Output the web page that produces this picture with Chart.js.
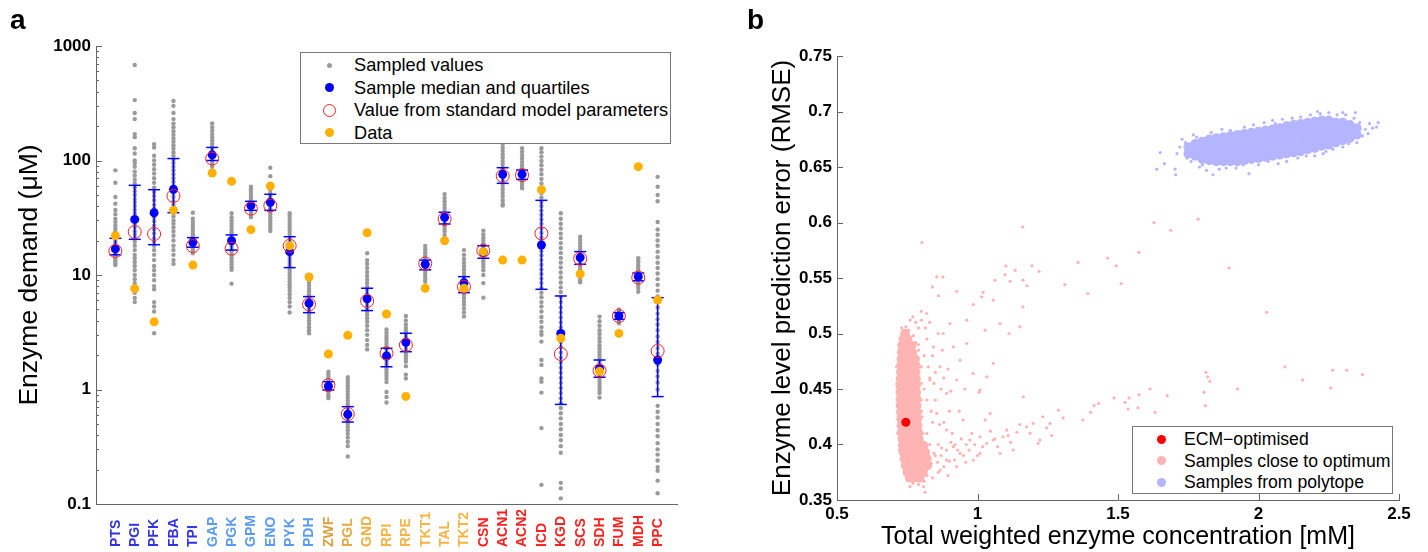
<!DOCTYPE html>
<html>
<head>
<meta charset="utf-8">
<script src="https://cdn.jsdelivr.net/npm/chart.js@4.4.1/dist/chart.umd.min.js"></script>
<style>
  body { margin: 0; background: #fff; }
  #wrap { position: relative; width: 1428px; height: 552px; font-family: "Liberation Sans", Arial, sans-serif; }
  canvas { position: absolute; top: 0; }
  #chartA { left: 0; }
  #chartB { left: 720px; }
  .panel { position: absolute; font: bold 28px "Liberation Sans", Arial, sans-serif; line-height: 28px; }
  .legend { position: absolute; background: #fff; border: 1px solid #777; box-sizing: border-box; }
  .legend .item { position: absolute; line-height: 20px; white-space: nowrap; color: #000; }
  .legend .mk { position: absolute; border-radius: 50%; box-sizing: border-box; }
  #legendA .item { font-size: 18.2px; }
  #legendB .item { font-size: 17.6px; }
</style>
</head>
<body>
<div id="wrap">
  <canvas id="chartA" width="720" height="552"></canvas>
  <canvas id="chartB" width="708" height="552"></canvas>
  <div class="panel" style="left:10px;top:6px;">a</div>
  <div class="panel" style="left:747px;top:6px;">b</div>

  <div class="legend" id="legendA" style="left:300px;top:52px;width:371px;height:92px;">
    <span class="mk" style="left:26px;top:10px;width:5px;height:5px;background:#9a9a9a;"></span>
    <div class="item" style="left:53px;top:2px;">Sampled values</div>
    <span class="mk" style="left:23.5px;top:30px;width:9px;height:9px;background:#0000ff;"></span>
    <div class="item" style="left:53px;top:24.5px;">Sample median and quartiles</div>
    <span class="mk" style="left:21.5px;top:50.5px;width:13px;height:13px;border:1px solid #ff2020;"></span>
    <div class="item" style="left:53px;top:47px;">Value from standard model parameters</div>
    <span class="mk" style="left:23.5px;top:75px;width:9px;height:9px;background:#ffb000;"></span>
    <div class="item" style="left:53px;top:69.5px;">Data</div>
  </div>

  <div class="legend" id="legendB" style="left:1132px;top:426px;width:261px;height:68px;">
    <span class="mk" style="left:23.5px;top:7.5px;width:9px;height:9px;background:#ff0000;"></span>
    <div class="item" style="left:51px;top:2px;">ECM−optimised</div>
    <span class="mk" style="left:23.5px;top:29px;width:9px;height:9px;background:#ffb4b4;"></span>
    <div class="item" style="left:51px;top:23.5px;">Samples close to optimum</div>
    <span class="mk" style="left:23.5px;top:50.5px;width:9px;height:9px;background:#b4b4ff;"></span>
    <div class="item" style="left:51px;top:45px;">Samples from polytope</div>
  </div>
</div>

<script>
// ---- panel a: enzyme demand ----
const enzymes = ["PTS", "PGI", "PFK", "FBA", "TPI", "GAP", "PGK", "GPM", "ENO", "PYK", "PDH",
  "ZWF", "PGL", "GND", "RPI", "RPE", "TKT1", "TAL", "TKT2",
  "CSN", "ACN1", "ACN2", "ICD", "KGD", "SCS", "SDH", "FUM", "MDH", "PPC"];
const enzymeColors = ["#3232e6", "#3232e6", "#3232e6", "#3232e6", "#3232e6",
  "#5a9af0", "#5a9af0", "#5a9af0", "#5a9af0", "#5a9af0", "#5a9af0",
  "#d9a040", "#e6a840", "#f0b040", "#f5b445", "#f5b445", "#f5b445", "#f5b445", "#f5b445",
  "#ff2020", "#ff2020", "#ff2020", "#ff2020", "#ff2020", "#ff2020", "#ff2020", "#ff2020", "#ff2020", "#ff2020"];

const sampleMedian = [16.9, 30.6, 35.0, 56, 19.3, 112, 19.9, 40.4, 43.2, 16.0, 5.66,
  1.07, 0.607, 6.2, 1.96, 2.58, 12.4, 31.9, 8.57,
  15.8, 75.7, 75.7, 18.3, 3.09, 14.2, 1.53, 4.38, 9.67, 1.81];
const sampleLowerQuartile = [15.0, 20.5, 18.4, 35, 17.5, 100, 16.5, 36.7, 36.7, 11.6, 4.69,
  0.99, 0.52, 4.89, 1.58, 2.14, 11.1, 27.9, 7.01,
  14.0, 63.2, 68.4, 7.5, 0.741, 12.4, 1.28, 4.1, 8.9, 0.867];
const sampleUpperQuartile = [20.9, 60.7, 55.6, 104, 21.2, 130, 22.4, 44, 50.7, 21.6, 6.48,
  1.17, 0.708, 7.66, 2.29, 3.10, 13.5, 35.3, 9.67,
  18.0, 86.5, 82.6, 44.9, 6.56, 16.0, 1.81, 4.69, 10.4, 6.34];
const standardValue = [16.2, 23.8, 22.8, 49, 17.9, 104, 17.0, 38, 40.4, 18.0, 5.55,
  1.09, 0.61, 5.93, 2.07, 2.45, 12.6, 30.9, 7.9,
  16.3, 73.3, 74.5, 23.1, 2.04, 13.9, 1.46, 4.38, 9.5, 2.17];
const measuredData = [22.0, 7.6, 3.9, 36.7, 12.2, 77.8, 65.8, 24.9, 59.8, 18.0, 9.6,
  2.04, 2.97, 23.4, 4.56, 0.87, 7.65, 19.9, 7.65,
  16.0, 13.5, 13.5, 55.6, 2.8, 10.2, 1.44, 3.09, 88.3, 6.05];

const sampledValues = [
  [82, 64, 48, 42, 37, 34, 31, 29, 27, 25.5, 24, 22.8, 21.7, 20.7, 19.8, 19, 18.2, 17.4, 16.7, 16, 15.4, 14.8, 14.2, 13.6, 13.1, 12.6, 12.2],
  [682, 337, 260, 230, 170, 160, 128, 115, 100, 95, 88, 80, 74, 68, 63, 58, 54, 50, 46, 43, 40, 37, 34.5, 32, 30, 28, 26, 24, 22.5, 21, 19.5, 18, 16.5, 15, 14, 13, 12, 11, 10, 9.2, 8.5, 7.8, 7, 6.3, 5.8],
  [139, 130, 110, 100, 92, 84, 77, 70, 64, 58, 53, 49, 45, 41, 38, 35, 32, 29.5, 27, 25, 23, 21, 19.5, 18, 16.5, 15, 13.5, 12, 11, 10, 9, 8, 7.5, 5.8, 5.3, 4.8, 3.1],
  [331, 300, 260, 230, 210, 195, 180, 168, 156, 146, 136, 127, 118, 110, 102, 95, 88, 82, 76, 70, 65, 60, 56, 52, 48, 44, 41, 38, 35, 32.5, 30, 28, 26, 24, 22, 20, 18, 16.5, 15, 13.5, 12.5],
  [35, 31, 29, 27.5, 26, 24.5, 23.2, 22, 21, 20, 19.2, 18.4, 17.6, 16.9, 16.2, 15.5],
  [211, 195, 182, 170, 160, 150, 141, 133, 126, 119, 113, 107, 101, 96, 92, 88],
  [34.6, 32, 30, 28, 26.5, 25, 23.5, 22, 20.8, 19.7, 18.6, 17.6, 16.6, 15.7, 14.8, 14, 13.2, 12.4, 11.7, 11.1, 8.4],
  [59, 56, 53, 50, 47.5, 45, 43, 41, 39, 37, 35, 33.5, 32],
  [86.5, 73, 62, 56, 52, 49, 46.5, 44, 42, 40, 38, 36, 34, 32, 30, 28.5, 27, 25.5, 24.2],
  [34.6, 33, 31, 29, 27.5, 26, 24.5, 23, 21.6, 20.3, 19.1, 18, 17, 16, 15, 14.1, 13.3, 12.5, 11.8, 11.1, 10.5, 9.9, 9.3, 8.8, 8.3, 7.8, 7.3, 6.8, 6.3, 5.8, 5.3, 4.7],
  [9.2, 8.6, 8.1, 7.6, 7.2, 6.8, 6.4, 6.0, 5.7, 5.4, 5.1, 4.8, 4.5, 4.25, 4.0, 3.75, 3.5, 3.3, 3.1],
  [1.43, 1.36, 1.29, 1.23, 1.17, 1.11, 1.06, 1.01, 0.96, 0.91, 0.87, 0.84],
  [1.28, 1.21, 1.14, 1.08, 1.02, 0.96, 0.9, 0.85, 0.8, 0.75, 0.71, 0.67, 0.63, 0.6, 0.56, 0.53, 0.5, 0.47, 0.44, 0.41, 0.38, 0.35, 0.32, 0.26],
  [15.5, 13.5, 12.5, 11.5, 10.6, 9.8, 9.1, 8.5, 7.9, 7.4, 6.9, 6.5, 6.1, 5.7, 5.4, 5.1, 4.8, 4.5, 4.2, 3.9, 3.6, 3.3, 3.0, 2.7, 2.45, 2.24],
  [3.35, 3.15, 2.95, 2.8, 2.65, 2.5, 2.36, 2.23, 2.1, 1.98, 1.87, 1.77, 1.67, 1.58, 1.49, 1.4, 1.32, 1.24, 1.16, 0.95, 0.86, 0.77],
  [4.38, 4.0, 3.7, 3.45, 3.25, 3.05, 2.88, 2.72, 2.57, 2.43, 2.3, 2.18, 2.06, 1.95, 1.85, 1.75, 1.6, 1.35, 1.25],
  [17.9, 16.8, 15.8, 14.9, 14.1, 13.4, 12.7, 12.1, 11.5, 10.9, 10.3, 9.7, 9.2, 8.75],
  [50.9, 47, 44, 41, 38.5, 36, 34, 32, 30, 28.3, 26.8, 25.3, 24, 22.3],
  [16.5, 15, 13.8, 12.8, 11.9, 11.1, 10.4, 9.8, 9.2, 8.6, 8.1, 7.6, 7.1, 6.7, 6.3, 5.9, 5.5, 5.1, 4.7, 4.33],
  [24.4, 22.6, 21.2, 20, 18.9, 17.9, 17, 16.2, 15.4, 14.6, 13.9, 13.2, 12.5, 11.8, 11, 10, 8.5, 6.34],
  [140, 130, 121, 113, 106, 99, 93, 87, 82, 77, 72, 68, 64, 60, 56, 52, 48.5, 45, 42, 40.4],
  [128, 119, 111, 104, 97, 91, 85.5, 80, 75.5, 71, 67, 63, 60, 57.2],
  [128, 118, 108, 99, 91, 83, 76, 69, 63, 57, 52, 47.5, 43.5, 40, 36.5, 33.5, 30.5, 28, 25.5, 23.3, 21.3, 19.5, 17.8, 16.2, 14.8, 13.5, 12.3, 11.2, 10.2, 9.3, 8.5, 7.7, 7.0, 6.4, 5.8, 5.3, 4.8, 4.3, 3.9, 3.5, 3.2, 3.0, 2.62, 1.81, 1.64, 1.25, 1.17, 0.94, 0.46, 0.147],
  [34.6, 31, 28, 25.5, 23, 21, 19, 17.2, 15.6, 14.1, 12.8, 11.6, 10.5, 9.5, 8.6, 7.8, 7.1, 6.4, 5.8, 5.2, 4.7, 4.25, 3.85, 3.5, 3.15, 2.85, 2.6, 2.35, 2.1, 1.9, 1.72, 1.55, 1.4, 1.26, 1.14, 1.03, 0.93, 0.84, 0.76, 0.69, 0.62, 0.56, 0.5, 0.45, 0.4, 0.36, 0.32, 0.28, 0.153, 0.137, 0.112],
  [21.6, 20.2, 19, 17.9, 16.9, 16, 15.2, 14.4, 13.7, 13, 12.4, 11.8, 11.2, 10.6, 10, 9.5, 9, 8.63],
  [4.33, 3.95, 3.6, 3.3, 3.05, 2.82, 2.62, 2.44, 2.28, 2.13, 2.0, 1.88, 1.77, 1.67, 1.58, 1.49, 1.41, 1.33, 1.26, 1.19, 1.12, 1.05, 0.99, 0.93, 0.85],
  [5.01, 4.85, 4.7, 4.55, 4.4, 4.25, 4.1, 3.95, 3.78],
  [14, 13.2, 12.5, 11.9, 11.3, 10.8, 10.3, 9.8, 9.3, 8.9, 8.5, 8.1, 7.7, 7.15],
  [72, 59, 50, 44, 29, 25, 22.5, 20, 18, 16, 14.3, 12.8, 11.5, 10.3, 9.2, 8.2, 7.3, 6.5, 5.8, 5.2, 4.6, 4.1, 3.7, 3.3, 2.9, 2.6, 2.3, 2.05, 1.85, 1.65, 1.45, 1.3, 1.15, 1.0, 0.72, 0.64, 0.57, 0.5, 0.44, 0.39, 0.34, 0.3, 0.27, 0.24, 0.21, 0.195, 0.16, 0.124]
];
const yMajorTicks = [0.1, 1, 10, 100, 1000];

// ---- panel b: prediction error vs enzyme cost ----
const ecmOptimum = [[0.745, 0.420]];
const nearOptimumCore = [
  [0.742, 0.500],
  [0.736, 0.495], [0.752, 0.495],
  [0.732, 0.489], [0.750, 0.489], [0.766, 0.489],
  [0.730, 0.483], [0.748, 0.483], [0.768, 0.483],
  [0.729, 0.477], [0.747, 0.477], [0.766, 0.477], [0.778, 0.477],
  [0.728, 0.471], [0.746, 0.471], [0.764, 0.471], [0.780, 0.471],
  [0.727, 0.465], [0.745, 0.465], [0.763, 0.465], [0.780, 0.465],
  [0.726, 0.459], [0.744, 0.459], [0.762, 0.459], [0.781, 0.459],
  [0.725, 0.453], [0.743, 0.453], [0.761, 0.453], [0.781, 0.453],
  [0.725, 0.447], [0.743, 0.447], [0.761, 0.447], [0.782, 0.447],
  [0.726, 0.441], [0.744, 0.441], [0.762, 0.441], [0.783, 0.441],
  [0.726, 0.435], [0.744, 0.435], [0.763, 0.435], [0.784, 0.435],
  [0.727, 0.429], [0.745, 0.429], [0.764, 0.429], [0.785, 0.429],
  [0.728, 0.423], [0.746, 0.423], [0.765, 0.423], [0.786, 0.423],
  [0.729, 0.417], [0.747, 0.417], [0.766, 0.417], [0.787, 0.417],
  [0.730, 0.411], [0.749, 0.411], [0.768, 0.411], [0.789, 0.411],
  [0.732, 0.405], [0.751, 0.405], [0.770, 0.405], [0.791, 0.405],
  [0.734, 0.399], [0.753, 0.399], [0.772, 0.399], [0.793, 0.399], [0.808, 0.399],
  [0.737, 0.393], [0.756, 0.393], [0.775, 0.393], [0.796, 0.393], [0.814, 0.393],
  [0.740, 0.387], [0.759, 0.387], [0.778, 0.387], [0.799, 0.387], [0.820, 0.387],
  [0.744, 0.381], [0.763, 0.381], [0.782, 0.381], [0.802, 0.381], [0.822, 0.381],
  [0.750, 0.375], [0.769, 0.375], [0.788, 0.375], [0.806, 0.375],
  [0.758, 0.370], [0.777, 0.370], [0.795, 0.370]
];
const nearOptimumSparse = [
  [0.712, 0.470], [0.714, 0.440], [0.716, 0.410], [0.720, 0.490], [0.713, 0.455], [0.718, 0.425], [0.722, 0.395],
  [0.730, 0.505], [0.745, 0.506], [0.755, 0.503], [0.772, 0.498], [0.780, 0.492], [0.790, 0.485], [0.795, 0.470],
  [0.800, 0.455], [0.800, 0.440], [0.803, 0.425], [0.806, 0.410], [0.810, 0.400], [0.825, 0.390], [0.830, 0.380],
  [0.820, 0.372], [0.810, 0.367], [0.790, 0.364], [0.770, 0.365], [0.760, 0.362], [0.813, 0.357],
  [0.790, 0.490], [0.800, 0.470], [0.810, 0.450], [0.800, 0.430], [0.820, 0.410], [0.810, 0.480], [0.830, 0.460],
  [0.820, 0.440], [0.840, 0.420], [0.830, 0.400], [0.850, 0.390], [0.860, 0.400], [0.870, 0.390], [0.880, 0.380],
  [0.860, 0.375], [0.840, 0.370], [0.890, 0.395], [0.900, 0.385], [0.880, 0.420], [0.850, 0.440], [0.840, 0.480],
  [0.860, 0.500], [0.830, 0.510], [0.800, 0.520], [0.790, 0.505], [0.780, 0.510], [0.770, 0.515], [0.760, 0.512],
  [0.820, 0.495], [0.850, 0.465], [0.870, 0.450], [0.880, 0.460], [0.900, 0.430], [0.910, 0.410], [0.920, 0.400],
  [0.930, 0.395], [0.950, 0.390], [0.960, 0.400], [0.970, 0.395], [0.990, 0.400], [1.000, 0.390],
  [0.801, 0.512], [0.819, 0.518], [0.861, 0.534], [0.926, 0.538], [0.985, 0.526], [1.015, 0.533], [1.056, 0.530],
  [1.080, 0.509], [1.112, 0.500], [0.902, 0.509], [0.878, 0.500], [0.914, 0.488], [0.938, 0.476], [0.962, 0.491],
  [0.985, 0.464], [0.926, 0.458], [0.890, 0.446], [0.867, 0.470], [0.843, 0.488], [0.831, 0.458], [0.855, 0.428],
  [0.890, 0.413], [0.914, 0.398], [0.938, 0.392], [0.985, 0.386], [0.890, 0.386], [0.867, 0.377], [0.926, 0.380],
  [1.009, 0.449], [0.949, 0.422], [0.973, 0.404], [1.045, 0.428], [1.056, 0.404], [1.104, 0.413], [1.151, 0.506],
  [1.163, 0.443], [1.187, 0.410], [1.222, 0.404], [1.027, 0.503], [0.962, 0.512], [1.056, 0.473], [1.033, 0.461],
  [1.080, 0.392], [1.127, 0.395], [1.009, 0.392], [1.162, 0.524],
  [1.009, 0.407], [1.033, 0.401], [1.062, 0.405], [1.091, 0.407], [1.109, 0.408], [1.140, 0.411], [1.175, 0.416],
  [1.198, 0.419], [1.216, 0.401], [1.246, 0.415], [1.258, 0.419], [1.264, 0.408], [1.305, 0.424], [1.375, 0.422],
  [1.403, 0.429], [1.415, 0.435], [1.431, 0.437], [1.486, 0.442], [1.525, 0.438], [1.536, 0.432], [1.539, 0.442],
  [1.571, 0.433], [1.575, 0.445], [1.614, 0.450], [1.632, 0.429], [1.675, 0.444], [1.806, 0.447], [1.811, 0.435],
  [1.813, 0.465], [1.819, 0.461], [1.827, 0.457], [1.925, 0.450], [2.094, 0.470], [2.157, 0.458], [2.257, 0.451],
  [2.264, 0.467], [2.314, 0.467], [2.370, 0.463], [1.027, 0.422], [1.005, 0.447],
  [1.161, 0.596], [1.628, 0.600], [1.785, 0.603], [1.688, 0.593], [1.574, 0.573], [1.463, 0.568], [1.494, 0.561],
  [1.511, 0.545], [1.393, 0.536], [1.895, 0.559], [2.029, 0.519], [1.311, 0.544], [1.358, 0.564], [1.219, 0.556],
  [1.194, 0.561], [1.176, 0.543], [1.162, 0.548], [1.134, 0.557], [1.116, 0.547], [1.101, 0.561], [1.098, 0.553],
  [1.062, 0.548], [1.020, 0.537], [0.877, 0.551], [0.855, 0.551], [0.840, 0.542], [0.802, 0.582],
  [0.835, 0.383], [0.845, 0.392], [0.858, 0.384], [0.872, 0.397], [0.895, 0.372], [0.905, 0.402], [0.918, 0.386],
  [0.942, 0.405], [0.958, 0.384], [0.980, 0.410], [1.018, 0.398], [1.046, 0.412], [1.072, 0.398], [1.118, 0.402],
  [1.150, 0.418], [1.232, 0.425], [1.288, 0.431], [0.815, 0.505], [0.825, 0.470], [0.835, 0.430], [0.845, 0.455],
  [0.865, 0.418], [0.875, 0.485], [0.895, 0.468], [0.905, 0.448], [0.935, 0.430], [0.955, 0.450], [0.808, 0.362]
];
const polytopeCore = [
  [1.750, 0.662], [1.750, 0.668],
  [1.775, 0.660], [1.775, 0.666], [1.775, 0.671],
  [1.800, 0.657], [1.800, 0.663], [1.800, 0.668], [1.800, 0.673],
  [1.825, 0.656], [1.825, 0.661], [1.825, 0.667], [1.825, 0.672], [1.825, 0.675],
  [1.850, 0.655], [1.850, 0.660], [1.850, 0.666], [1.850, 0.671], [1.850, 0.676],
  [1.875, 0.655], [1.875, 0.660], [1.875, 0.666], [1.875, 0.671], [1.875, 0.677],
  [1.900, 0.655], [1.900, 0.661], [1.900, 0.666], [1.900, 0.672], [1.900, 0.678],
  [1.925, 0.655], [1.925, 0.661], [1.925, 0.667], [1.925, 0.673], [1.925, 0.679],
  [1.950, 0.656], [1.950, 0.662], [1.950, 0.668], [1.950, 0.674], [1.950, 0.680],
  [1.975, 0.657], [1.975, 0.663], [1.975, 0.669], [1.975, 0.675], [1.975, 0.681],
  [2.000, 0.658], [2.000, 0.664], [2.000, 0.670], [2.000, 0.676], [2.000, 0.682],
  [2.025, 0.659], [2.025, 0.665], [2.025, 0.671], [2.025, 0.677], [2.025, 0.683],
  [2.050, 0.660], [2.050, 0.666], [2.050, 0.672], [2.050, 0.678], [2.050, 0.684],
  [2.075, 0.661], [2.075, 0.667], [2.075, 0.673], [2.075, 0.679], [2.075, 0.685],
  [2.100, 0.662], [2.100, 0.668], [2.100, 0.674], [2.100, 0.681], [2.100, 0.687],
  [2.125, 0.663], [2.125, 0.669], [2.125, 0.676], [2.125, 0.682], [2.125, 0.688],
  [2.150, 0.664], [2.150, 0.670], [2.150, 0.677], [2.150, 0.683], [2.150, 0.689],
  [2.175, 0.666], [2.175, 0.672], [2.175, 0.678], [2.175, 0.684], [2.175, 0.690],
  [2.200, 0.667], [2.200, 0.673], [2.200, 0.679], [2.200, 0.685], [2.200, 0.691],
  [2.225, 0.669], [2.225, 0.675], [2.225, 0.681], [2.225, 0.687], [2.225, 0.692],
  [2.250, 0.670], [2.250, 0.676], [2.250, 0.682], [2.250, 0.688], [2.250, 0.692],
  [2.275, 0.672], [2.275, 0.678], [2.275, 0.684], [2.275, 0.690],
  [2.300, 0.674], [2.300, 0.680], [2.300, 0.686], [2.300, 0.690],
  [2.325, 0.676], [2.325, 0.682], [2.325, 0.688],
  [2.350, 0.679], [2.350, 0.685]
];
const polytopeSparse = [
  [1.650, 0.663], [1.665, 0.653], [1.638, 0.648], [1.703, 0.648], [1.705, 0.643], [1.838, 0.643], [1.966, 0.644],
  [2.406, 0.685], [2.426, 0.690], [2.420, 0.686],
  [2.150, 0.695], [2.220, 0.698], [2.250, 0.699], [2.280, 0.697], [2.050, 0.692], [1.950, 0.686], [1.900, 0.683],
  [1.780, 0.677], [1.740, 0.672], [1.720, 0.668], [1.710, 0.662], [1.800, 0.652], [1.860, 0.648], [1.920, 0.649],
  [2.000, 0.652], [2.100, 0.655], [2.200, 0.660], [2.300, 0.668], [2.350, 0.672], [2.360, 0.690], [2.380, 0.684],
  [2.390, 0.680], [2.370, 0.678], [2.340, 0.694], [2.310, 0.697],
  [1.728, 0.675], [1.760, 0.655], [1.790, 0.650], [1.832, 0.681], [1.870, 0.684], [1.885, 0.649], [1.945, 0.652],
  [1.982, 0.688], [2.020, 0.690], [2.035, 0.655], [2.070, 0.653], [2.085, 0.693], [2.120, 0.694], [2.140, 0.658],
  [2.170, 0.660], [2.185, 0.697], [2.240, 0.664], [2.265, 0.666], [2.320, 0.671], [2.395, 0.689], [2.345, 0.699],
  [1.745, 0.658], [1.768, 0.679], [1.815, 0.647], [2.300, 0.699], [2.210, 0.700], [2.230, 0.662], [2.060, 0.689]
];

const fontFamily = '"Liberation Sans", Arial, sans-serif';
const axisColor = '#666';

// points built from the arrays above
const grayPoints = sampledValues.flatMap((vals, i) => vals.map(v => ({ x: i + 1, y: v })));
const quartileLines = enzymes.flatMap((_, i) => [
  { x: i + 1, y: sampleLowerQuartile[i] },
  { x: i + 1, y: sampleUpperQuartile[i] },
  { x: i + 1, y: null }
]);
const capPoints = enzymes.flatMap((_, i) => [
  { x: i + 1, y: sampleLowerQuartile[i] },
  { x: i + 1, y: sampleUpperQuartile[i] }
]);
const medianPoints = sampleMedian.map((v, i) => ({ x: i + 1, y: v }));
const standardPoints = standardValue.map((v, i) => ({ x: i + 1, y: v }));
const dataPoints = measuredData.map((v, i) => ({ x: i + 1, y: v }));
const toXY = arr => arr.map(p => ({ x: p[0], y: p[1] }));

//inside ticks + rotated coloured enzyme names for panel a
const panelAPlugin = {
  id: 'panelA',
  afterDraw(chart) {
    const { ctx, chartArea, scales: { x, y } } = chart;
    ctx.save();
    ctx.strokeStyle = axisColor;
    ctx.lineWidth = 1;
    ctx.beginPath();
    for (let d = -1; d <= 3; d++) {
      for (let m = 1; m <= 9; m++) {
        const v = m * Math.pow(10, d);
        if (d === 3 && m > 1) continue;
        const py = Math.round(y.getPixelForValue(v)) + 0.5;
        const len = m === 1 ? 6 : 3;
        ctx.moveTo(chartArea.left, py);
        ctx.lineTo(chartArea.left + len, py);
      }
    }
    ctx.stroke();

    ctx.font = 'bold 14px ' + fontFamily;
    ctx.textAlign = 'left';
    ctx.textBaseline = 'middle';
    enzymes.forEach((name, i) => {
      const px = x.getPixelForValue(i + 1);
      ctx.save();
      ctx.translate(px + 0.5, 547);
      ctx.rotate(-Math.PI / 2);
      ctx.fillStyle = enzymeColors[i];
      ctx.fillText(name, 0, 0);
      ctx.restore();
    });
    ctx.restore();
  }
};

//inside ticks for panel b
const panelBPlugin = {
  id: 'panelB',
  afterDraw(chart) {
    const { ctx, chartArea, scales: { x, y } } = chart;
    ctx.save();
    ctx.strokeStyle = axisColor;
    ctx.lineWidth = 1;
    ctx.beginPath();
    x.ticks.forEach(t => {
      const px = Math.round(x.getPixelForValue(t.value)) + 0.5;
      ctx.moveTo(px, chartArea.bottom);
      ctx.lineTo(px, chartArea.bottom - 6);
    });
    y.ticks.forEach(t => {
      const py = Math.round(y.getPixelForValue(t.value)) + 0.5;
      ctx.moveTo(chartArea.left, py);
      ctx.lineTo(chartArea.left + 6, py);
    });
    ctx.stroke();
    ctx.restore();
  }
};

new Chart(document.getElementById("chartA"), {
  type: "scatter",
  data: {
    datasets: [{
      label: "Sampled values",
      data: grayPoints,
      pointRadius: 2.2,
      pointBackgroundColor: "#9a9a9a",
      pointBorderWidth: 0,
      order: 5,
    }, {
      type: "line",
      label: "Quartiles",
      data: quartileLines,
      borderColor: "#0000ff",
      borderWidth: 1.5,
      pointRadius: 0,
      showLine: true,
      spanGaps: false,
      order: 4,
    }, {
      label: "Quartile caps",
      data: capPoints,
      pointStyle: "line",
      pointRadius: 6,
      pointBorderColor: "#0000ff",
      pointBorderWidth: 1.5,
      order: 4,
    }, {
      label: "Sample median and quartiles",
      data: medianPoints,
      pointRadius: 4.5,
      pointBackgroundColor: "#0000ff",
      pointBorderWidth: 0,
      order: 3,
    }, {
      label: "Value from standard model parameters",
      data: standardPoints,
      pointRadius: 6.5,
      pointBackgroundColor: "rgba(0,0,0,0)",
      pointBorderColor: "#ff2020",
      pointBorderWidth: 1,
      order: 2,
    }, {
      label: "Data",
      data: dataPoints,
      pointRadius: 4.5,
      pointBackgroundColor: "#ffb000",
      pointBorderWidth: 0,
      order: 1,
    }, ],
  },
  options: {
    responsive: false,
    animation: false,
    layout: { padding: { left: 0, right: 43, top: 46, bottom: 0 } },
    plugins: { legend: { display: false }, tooltip: { enabled: false } },
    scales: {
      x: {
        type: "linear",
        min: 0,
        max: 30,
        ticks: { display: false },
        grid: { drawOnChartArea: false, drawTicks: false },
        border: { color: axisColor },
        afterFit: s => { s.height = 48; },
      },
      y: {
        type: "logarithmic",
        min: 0.1,
        max: 1000,
        afterBuildTicks: s => { s.ticks = yMajorTicks.map(v => ({ value: v })); },
        ticks: {
          autoSkip: false,
          callback: v => String(v),
          color: "#000",
          padding: 5,
          font: { family: fontFamily, size: 17, weight: "bold" },
        },
        grid: { drawOnChartArea: false, drawTicks: false },
        border: { color: axisColor },
        title: {
          display: true,
          text: "Enzyme demand (μM)",
          color: "#000",
          font: { family: fontFamily, size: 26.5 },
          padding: { top: 14, bottom: 0 },
        },
        afterFit: s => { s.width = 96; },
      },
    },
  },
  plugins: [panelAPlugin],
});

new Chart(document.getElementById("chartB"), {
  type: "scatter",
  data: {
    datasets: [{
      label: "ECM-optimised",
      data: toXY(ecmOptimum),
      pointRadius: 4.5,
      pointBackgroundColor: "#ff0000",
      pointBorderWidth: 0,
      order: 0,
    }, {
      label: "Samples close to optimum",
      data: toXY(nearOptimumCore),
      pointRadius: 4.8,
      pointBackgroundColor: "#ffb4b4",
      pointBorderWidth: 0,
      order: 2,
    }, {
      label: "Samples close to optimum (sparse)",
      data: toXY(nearOptimumSparse),
      pointRadius: 1.6,
      pointBackgroundColor: "#ffb4b4",
      pointBorderWidth: 0,
      order: 2,
    }, {
      label: "Samples from polytope",
      data: toXY(polytopeCore),
      pointRadius: 4.8,
      pointBackgroundColor: "#b4b4ff",
      pointBorderWidth: 0,
      order: 3,
    }, {
      label: "Samples from polytope (sparse)",
      data: toXY(polytopeSparse),
      pointRadius: 1.6,
      pointBackgroundColor: "#b4b4ff",
      pointBorderWidth: 0,
      order: 3,
    }, ],
  },
  options: {
    responsive: false,
    animation: false,
    layout: { padding: { left: 0, right: 29, top: 56, bottom: 0 } },
    plugins: { legend: { display: false }, tooltip: { enabled: false } },
    scales: {
      x: {
        type: "linear",
        min: 0.5,
        max: 2.5,
        ticks: {
          stepSize: 0.5,
          callback: v => String(+v.toFixed(2)),
          color: "#000",
          padding: 4,
          maxRotation: 0,
          font: { family: fontFamily, size: 17, weight: "bold" },
        },
        grid: { drawOnChartArea: false, drawTicks: false },
        border: { color: axisColor },
        title: {
          display: true,
          text: "Total weighted enzyme concentration [mM]",
          color: "#000",
          font: { family: fontFamily, size: 25 },
          padding: { top: 0, bottom: 0 },
        },
        afterFit: s => { s.height = 52; },
      },
      y: {
        type: "linear",
        min: 0.35,
        max: 0.75,
        ticks: {
          stepSize: 0.05,
          callback: v => String(+v.toFixed(2)),
          color: "#000",
          padding: 5,
          font: { family: fontFamily, size: 17, weight: "bold" },
        },
        grid: { drawOnChartArea: false, drawTicks: false },
        border: { color: axisColor },
        title: {
          display: true,
          text: "Enzyme level prediction error (RMSE)",
          color: "#000",
          font: { family: fontFamily, size: 26 },
          padding: { top: 47, bottom: 0 },
        },
        afterFit: s => { s.width = 117; },
      },
    },
  },
  plugins: [panelBPlugin],
});
</script>
</body>
</html>
